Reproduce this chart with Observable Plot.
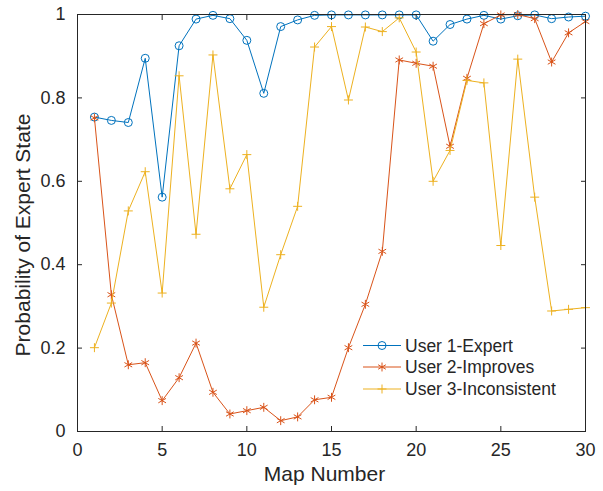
<!DOCTYPE html>
<html><head><meta charset="utf-8">
<script src="https://cdn.jsdelivr.net/npm/d3@7"></script>
<script src="https://cdn.jsdelivr.net/npm/@observablehq/plot@0.6"></script>
<style>body{margin:0;background:#fff} #chart{width:603px;height:491px}</style>
</head><body><div id="chart"></div>
<script>
const mapNumbers = [1,2,3,4,5,6,7,8,9,10,11,12,13,14,15,16,17,18,19,20,21,22,23,24,25,26,27,28,29,30];
const user1 = [0.754,0.746,0.741,0.895,0.562,0.925,0.989,0.998,0.990,0.938,0.811,0.971,0.987,0.998,0.999,0.999,0.999,0.999,0.999,0.999,0.936,0.976,0.989,0.998,0.989,0.997,0.999,0.990,0.994,0.996];
const user2 = [0.752,0.328,0.160,0.165,0.074,0.129,0.212,0.094,0.042,0.050,0.058,0.026,0.035,0.076,0.082,0.201,0.305,0.432,0.891,0.883,0.876,0.684,0.847,0.978,0.999,1.000,0.990,0.886,0.956,0.983];
const user3 = [0.201,0.308,0.529,0.623,0.332,0.853,0.473,0.903,0.582,0.664,0.298,0.424,0.540,0.922,0.971,0.795,0.970,0.959,0.992,0.910,0.600,0.674,0.842,0.836,0.446,0.893,0.562,0.289,0.293,0.297];
const seriesNames = ["User 1-Expert","User 2-Improves","User 3-Inconsistent"];
const seriesColors = ["#0072BD","#D95319","#EDB120"];
const seriesSymbols = ["circle","asterisk","plus"];
const seriesR = [4,4.2,3];
const xTicks = [0,5,10,15,20,25,30];
const yTicks = [0,0.2,0.4,0.6,0.8,1];
const yTickLabels = ["0","0.2","0.4","0.6","0.8","1"];
const xLabel = "Map Number";
const yLabel = "Probability of Expert State";

const allSeries = [user1,user2,user3];
const seriesRows = allSeries.map(vals => mapNumbers.map((m,i)=>({map:m, p:vals[i]})));

const dataMarks = [];
seriesRows.forEach((rows,s)=>{
  dataMarks.push(Plot.line(rows,{x:"map",y:"p",stroke:seriesColors[s],strokeWidth:1}));
  dataMarks.push(Plot.dot(rows,{x:"map",y:"p",stroke:seriesColors[s],symbol:seriesSymbols[s],r:seriesR[s],strokeWidth:1,fill:"none"}));
});

const plot = Plot.plot({
  width:603, height:491, marginLeft:77, marginRight:18, marginTop:14, marginBottom:60,
  style:{fontFamily:"'Liberation Sans', Arial, Helvetica, sans-serif", fontSize:"18px", color:"#262626", background:"#fff"},
  x:{domain:[0,30]}, y:{domain:[0,1]},
  marks:[
    Plot.axisX(xTicks,{anchor:"bottom", tickSize:-5, tickPadding:17, label:null}),
    Plot.axisX(xTicks,{anchor:"top", tickSize:-5, tickFormat:()=>"", label:null}),
    Plot.axisY(yTicks,{anchor:"left", tickSize:-5, tickPadding:17, tickFormat:d=>yTickLabels[yTicks.indexOf(d)], label:null}),
    Plot.axisY(yTicks,{anchor:"right", tickSize:-5, tickFormat:()=>"", label:null}),
    ...dataMarks,
    Plot.frame({stroke:"#262626"}),
    Plot.text([xLabel],{text:d=>d, frameAnchor:"bottom", dx:-7, dy:43, textAnchor:"middle", lineAnchor:"middle", fontSize:21, fill:"#262626"}),
    Plot.text([yLabel],{text:d=>d, frameAnchor:"left", dx:-54, dy:12, rotate:-90, textAnchor:"middle", lineAnchor:"middle", fontSize:21, fill:"#262626"})
  ]
});
document.getElementById("chart").appendChild(plot);

// legend inside the plot area (MATLAB style, no box)
const svg = d3.select(plot);
const lg = svg.append("g").attr("font-family","'Liberation Sans', Arial, Helvetica, sans-serif").attr("font-size","17.5px").attr("text-anchor","start");
const legendRowsY = [345.5, 367, 389];
seriesNames.forEach((name,s)=>{
  const y = legendRowsY[s];
  lg.append("line").attr("x1",363).attr("x2",401).attr("y1",y).attr("y2",y).attr("stroke",seriesColors[s]).attr("stroke-width",1);
  const sym = {circle:d3.symbolCircle, asterisk:d3.symbolAsterisk, plus:d3.symbolPlus}[seriesSymbols[s]];
  lg.append("path").attr("transform",`translate(382,${y})`).attr("d",d3.symbol(sym, Math.PI*seriesR[s]*seriesR[s])()).attr("fill","none").attr("stroke",seriesColors[s]).attr("stroke-width",1);
  lg.append("text").attr("x",405).attr("y",y).attr("dy","0.35em").attr("fill","#262626").text(name);
});
</script>
</body></html>
